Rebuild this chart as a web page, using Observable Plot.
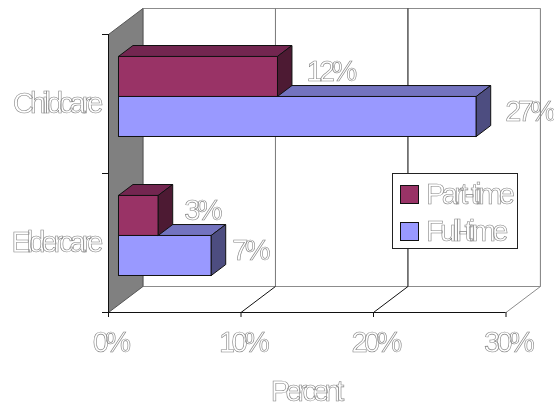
<!DOCTYPE html>
<html>
<head>
<meta charset="utf-8">
<script src="https://cdn.jsdelivr.net/npm/d3@7"></script>
<script src="https://cdn.jsdelivr.net/npm/@observablehq/plot@0.6"></script>
<style>
  html, body { margin: 0; padding: 0; background: #fff; }
  #chart { position: relative; width: 554px; height: 406px; overflow: hidden; }
  #chart svg { display: block; background: transparent !important; will-change: transform; }
  #chart svg text, #key span {
    font-family: "Liberation Sans", Arial, sans-serif;
    font-size: 29px;
    letter-spacing: -3.6px;
    fill: none;
    stroke: #858585;
    stroke-width: 0.6px;
    color: transparent;
    -webkit-text-stroke: 0.6px #858585;
  }
  #chart svg .category-name text { letter-spacing: -4px; }
  #chart svg .axis-name text { letter-spacing: -4.4px; }
  #key {
    position: absolute; left: 391.5px; top: 172.5px;
    width: 124px; height: 74px;
    background: #fff; border: 1px solid #222; box-sizing: content-box;
    will-change: transform;
  }
  #key div { position: absolute; left: 7px; height: 24px; line-height: 24px; white-space: nowrap; }
  #key div:nth-child(1) { top: 8px; }
  #key div:nth-child(2) { top: 45px; }
  #key i {
    position: absolute; left: 0; top: 3px; width: 17px; height: 17px;
    border: 1px solid #111;
  }
  #key span { position: absolute; left: 26px; top: 0; }
</style>
</head>
<body>
<div id="chart"></div>
<script>
// Share of workers using each benefit, by work status
const categories = ["Eldercare", "Childcare"];
const partTime = [3, 12];
const fullTime = [7, 27];
const xTicks = [0, 10, 20, 30];
const seriesNames = ["Part-time", "Full-time"];
const axisName = "Percent";

const palette = {
  "Part-time": { front: "#993366", top: "#732650", side: "#4d1a33" },
  "Full-time": { front: "#9999ff", top: "#7373bf", side: "#4d4d80" }
};
const wallGridStroke = { 10: "#777777", 20: "#000000", 30: "#8c8c8c" };
const floorGridStroke = { 10: "#111111", 20: "#111111", 30: "#8c8c8c" };

// Horizontal clearance between a bar's end and its value label
const labelGap = { "12%": 29, "27%": 29, "3%": 26, "7%": 21 };

// Oblique projection: depth 0 is the front plane, depth 1 the back wall
const depthX = 2.6, depthY = 0.187;
const project = (value, level, depth) => ({ x: value + depth * depthX, y: level + depth * depthY });

const barFront = 0.29, barBack = 0.71, barHeight = 0.288;
const faces = [];
let faceId = 0;
function addFace(corners, color) {
  const id = faceId++;
  for (const c of [...corners, corners[0]]) faces.push({ ...project(...c), face: id, color });
}
function addBar(value, low, colors) {
  const high = low + barHeight;
  addFace([[0, low, barFront], [value, low, barFront], [value, high, barFront], [0, high, barFront]], colors.front);
  addFace([[0, high, barFront], [value, high, barFront], [value, high, barBack], [0, high, barBack]], colors.top);
  addFace([[value, low, barFront], [value, low, barBack], [value, high, barBack], [value, high, barFront]], colors.side);
}

const labels = [];
categories.forEach((name, i) => {
  const centre = i + 0.5;
  addBar(fullTime[i], centre - barHeight, palette["Full-time"]);
  addBar(partTime[i], centre, palette["Part-time"]);
  labels.push({ ...project(fullTime[i], centre - barHeight / 2, barFront), text: fullTime[i] + "%" });
  labels.push({ ...project(partTime[i], centre + barHeight / 2, barFront), text: partTime[i] + "%" });
});

const corner = (v, l, d) => project(v, l, d);
const backWall = [corner(0, 0, 1), corner(30, 0, 1), corner(30, 2, 1), corner(0, 2, 1), corner(0, 0, 1)];
const sideWall = [corner(0, 0, 0), corner(0, 0, 1), corner(0, 2, 1), corner(0, 2, 0), corner(0, 0, 0)];

const gridValues = xTicks.slice(1);

const chart = Plot.plot({
  width: 554,
  height: 406,
  marginLeft: 108,
  marginRight: 48.5,
  marginTop: 34,
  marginBottom: 94,
  x: { domain: [0, 30] },
  y: { domain: [0, 2] },
  color: { type: "identity" },
  marks: [
    // Chart walls
    Plot.line(backWall, { x: "x", y: "y", fill: "#ffffff", stroke: "#8c8c8c", strokeWidth: 1 }),
    Plot.line(sideWall, { x: "x", y: "y", fill: "#808080", stroke: "#555555", strokeWidth: 1 }),
    // Gridlines on the back wall and running across the floor
    Plot.link(gridValues, {
      x1: d => corner(d, 0, 1).x, y1: d => corner(d, 0, 1).y,
      x2: d => corner(d, 2, 1).x, y2: d => corner(d, 2, 1).y,
      stroke: d => wallGridStroke[d], strokeWidth: 1
    }),
    Plot.link(gridValues, {
      x1: d => corner(d, 0, 0).x, y1: d => corner(d, 0, 0).y,
      x2: d => corner(d, 0, 1).x, y2: d => corner(d, 0, 1).y,
      stroke: d => floorGridStroke[d], strokeWidth: 1
    }),
    // Bars
    Plot.line(faces, { x: "x", y: "y", z: "face", fill: "color", stroke: "#111111", strokeWidth: 1 }),
    // Axes
    Plot.ruleY([0], { stroke: "#111111" }),
    Plot.ruleX([0], { stroke: "#111111", y1: 0, y2: 2 }),
    Plot.axisY([0, 1, 2], { tickSize: 6, tickFormat: () => "", label: null, stroke: "#111111" }),
    Plot.axisX(xTicks, { tickSize: 5, text: null, label: null, stroke: "#111111" }),
    Plot.axisX(xTicks, {
      tickSize: 0,
      tickPadding: 19,
      dx: 1.5,
      tickFormat: d => d + "%",
      label: null
    }),
    Plot.text([axisName], {
      frameAnchor: "bottom",
      dy: 88,
      dx: -2,
      className: "axis-name",
      fill: "none"
    }),
    // Category names and value labels
    Plot.text(categories, {
      x: () => 0,
      y: (d, i) => i + 0.5,
      text: d => d,
      textAnchor: "end",
      dx: -9,
      className: "category-name",
      fill: "none"
    }),
    ...labels.map(d => Plot.text([d], {
      x: "x", y: "y", text: "text",
      textAnchor: "start",
      dx: labelGap[d.text],
      dy: -5,
      fill: "none"
    }))
  ]
});

const root = document.getElementById("chart");
root.append(chart);

// Legend box, laid over the plot area
const key = document.createElement("div");
key.id = "key";
for (const name of seriesNames) {
  const row = document.createElement("div");
  const swatch = document.createElement("i");
  swatch.style.background = palette[name].front;
  const label = document.createElement("span");
  label.textContent = name;
  row.append(swatch, label);
  key.append(row);
}
root.append(key);
</script>
</body>
</html>
